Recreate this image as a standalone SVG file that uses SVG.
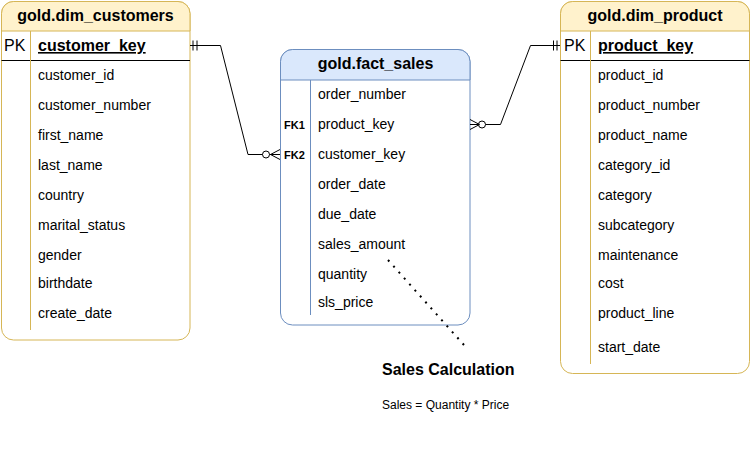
<svg xmlns="http://www.w3.org/2000/svg" width="751" height="470" viewBox="0 0 751 470">
<style>
text{font-family:"Liberation Sans",Arial,sans-serif;fill:#000}
.hd{font-size:16px;font-weight:bold;text-anchor:middle}
.pk{font-size:16px}
.pkf{font-size:16px;font-weight:bold;text-decoration:underline}
.f{font-size:14px}
.fk{font-size:11px;font-weight:bold}
.y .box{fill:#fff;stroke:#d6b656}
.y .hdr{fill:#fff2cc;stroke:#d6b656}
.y .div{stroke:#d6b656}
.b .box{fill:#fff;stroke:#6c8ebf}
.b .hdr{fill:#dae8fc;stroke:#6c8ebf}
.b .div{stroke:#6c8ebf}
.sep{stroke:#000}
.c{fill:none;stroke:#000;stroke-width:1}
</style>
<rect width="751" height="470" fill="#fff"/>

<g id="dim_customers" class="y">
<rect class="box" x="1.5" y="1.5" width="188.5" height="338.5" rx="12"/>
<path class="hdr" d="M1.5,31 V13.5 A12,12 0 0 1 13.5,1.5 H178 A12,12 0 0 1 190,13.5 V31 Z"/>
<line class="sep" x1="1.5" y1="60.5" x2="190" y2="60.5"/>
<line class="div" x1="30.5" y1="31" x2="30.5" y2="330"/>
<text class="hd" x="95.5" y="21">gold.dim_customers</text>
<text class="pk" x="4" y="51">PK</text>
<text class="pkf" x="38" y="51">customer_key</text>
<text class="f" x="38" y="80">customer_id</text>
<text class="f" x="38" y="110">customer_number</text>
<text class="f" x="38" y="140">first_name</text>
<text class="f" x="38" y="170">last_name</text>
<text class="f" x="38" y="200">country</text>
<text class="f" x="38" y="230">marital_status</text>
<text class="f" x="38" y="260">gender</text>
<text class="f" x="38" y="288">birthdate</text>
<text class="f" x="38" y="318">create_date</text>
</g>

<g id="fact_sales" class="b">
<rect class="box" x="280.5" y="49.5" width="189.5" height="275.5" rx="12"/>
<path class="hdr" d="M280.5,80 V61.5 A12,12 0 0 1 292.5,49.5 H458 A12,12 0 0 1 470,61.5 V80 Z"/>
<line class="div" x1="310.5" y1="80" x2="310.5" y2="315"/>
<text class="hd" x="375.5" y="69">gold.fact_sales</text>
<text class="f" x="318" y="99">order_number</text>
<text class="fk" x="284" y="129">FK1</text>
<text class="f" x="318" y="129">product_key</text>
<text class="fk" x="284" y="159">FK2</text>
<text class="f" x="318" y="159">customer_key</text>
<text class="f" x="318" y="189">order_date</text>
<text class="f" x="318" y="219">due_date</text>
<text class="f" x="318" y="249">sales_amount</text>
<text class="f" x="318" y="279">quantity</text>
<text class="f" x="318" y="307">sls_price</text>
</g>

<g id="dim_product" class="y">
<rect class="box" x="560.5" y="1.5" width="189" height="372" rx="12"/>
<path class="hdr" d="M560.5,31 V13.5 A12,12 0 0 1 572.5,1.5 H737.5 A12,12 0 0 1 749.5,13.5 V31 Z"/>
<line class="sep" x1="560.5" y1="60.5" x2="749.5" y2="60.5"/>
<line class="div" x1="590.5" y1="31" x2="590.5" y2="364"/>
<text class="hd" x="655" y="21">gold.dim_product</text>
<text class="pk" x="564" y="51">PK</text>
<text class="pkf" x="598" y="51">product_key</text>
<text class="f" x="598" y="80">product_id</text>
<text class="f" x="598" y="110">product_number</text>
<text class="f" x="598" y="140">product_name</text>
<text class="f" x="598" y="170">category_id</text>
<text class="f" x="598" y="200">category</text>
<text class="f" x="598" y="230">subcategory</text>
<text class="f" x="598" y="260">maintenance</text>
<text class="f" x="598" y="288">cost</text>
<text class="f" x="598" y="318">product_line</text>
<text class="f" x="598" y="352">start_date</text>
</g>

<g id="connectors">
<path class="c" d="M190,45.5 H220.5 L248,154.5 H262.5"/>
<line class="c" x1="193" y1="40.5" x2="193" y2="50.5"/>
<line class="c" x1="197" y1="40.5" x2="197" y2="50.5"/>
<circle class="c" cx="266" cy="154.5" r="3.5" fill="#fff"/>
<path class="c" d="M280,149.5 L270.5,154.5 L280,159.5 M269.5,154.5 H280"/>

<path class="c" d="M485.5,124.5 H500.5 L530.5,45.5 H560"/>
<circle class="c" cx="482" cy="124.5" r="3.5" fill="#fff"/>
<path class="c" d="M470,119.5 L479.5,124.5 L470,129.5 M470,124.5 H478.5"/>
<line class="c" x1="553.5" y1="40.5" x2="553.5" y2="50.5"/>
<line class="c" x1="557" y1="40.5" x2="557" y2="50.5"/>

<line x1="388" y1="260" x2="464" y2="345" stroke="#000" stroke-width="2" stroke-dasharray="2 6"/>
</g>

<g id="note">
<text x="382" y="375" style="font-size:16px;font-weight:bold">Sales Calculation</text>
<text x="382" y="409" style="font-size:12px">Sales = Quantity * Price</text>
</g>
</svg>
